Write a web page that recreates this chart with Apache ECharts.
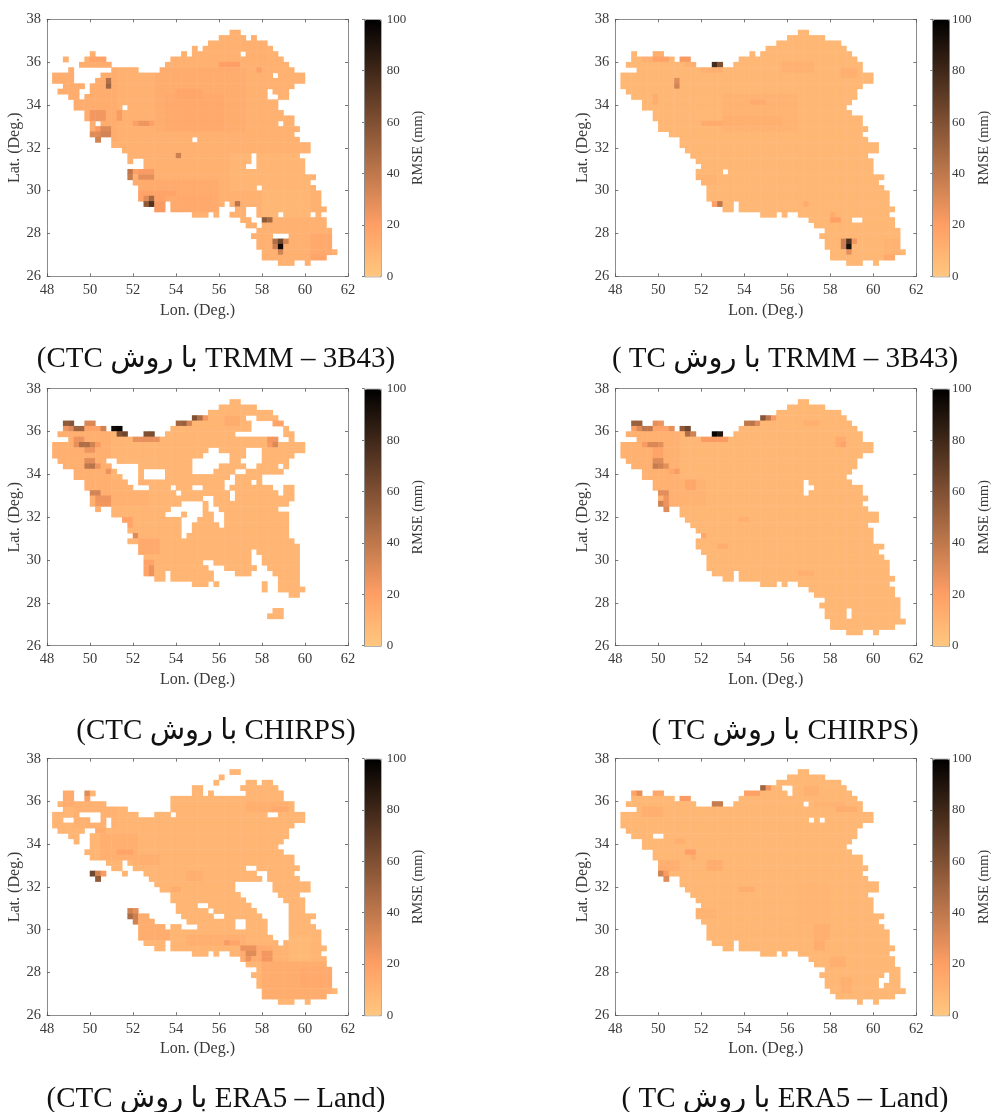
<!DOCTYPE html>
<html><head><meta charset="utf-8">
<style>html,body{margin:0;padding:0;background:#fff}#c{width:992px;height:1112px;filter:blur(0.45px)}</style>
<script src="https://cdn.jsdelivr.net/npm/echarts@6/dist/echarts.min.js"></script>
</head><body><div id="c"></div>
<script>
// Grid: 0.25 degree cells. row 0 = top (lat 38), col 0 = left (lon 48)
const rowCount = 48, colCount = 56;
const lonRange = [48, 62], latRange = [26, 38], rmseRange = [0, 100];
const tickStepDeg = 2, tickStepRmse = 20;

// land cells: [row, firstCol, lastCol]
const iranRuns = [[2,34,35],[3,32,38],[4,30,41],[5,27,42],[6,3,4],[6,7,8],[6,24,43],[7,3,10],[7,12,13],[7,23,44],[8,2,14],[8,18,19],[8,22,45],[9,4,45],[10,1,47],[11,1,47],[12,1,45],[13,2,44],[14,3,44],[15,5,43],[16,5,42],[17,7,43],[18,7,45],[19,8,45],[20,8,46],[21,8,45],[22,9,9],[22,12,46],[23,12,48],[24,13,48],[25,14,46],[26,15,47],[27,16,47],[28,15,47],[29,15,49],[30,16,48],[31,17,49],[32,17,50],[33,17,50],[34,18,21],[34,23,50],[35,20,21],[35,23,51],[36,27,29],[36,31,31],[36,34,50],[37,36,51],[38,37,51],[39,39,52],[40,38,52],[41,39,52],[42,39,52],[43,40,53],[44,40,51],[45,43,45],[45,48,48]];
const era5CtcRuns = [[2,34,35],[3,32,32],[4,31,31],[4,37,38],[4,40,41],[5,27,28],[5,36,42],[6,3,4],[6,7,8],[6,27,28],[6,30,30],[6,37,43],[7,3,4],[7,7,7],[7,23,43],[8,2,10],[8,23,45],[9,3,14],[9,23,45],[10,1,5],[10,10,16],[10,20,22],[10,24,40],[10,43,47],[11,1,2],[11,5,7],[11,10,10],[11,12,47],[12,1,10],[12,12,45],[13,2,6],[13,9,44],[14,4,5],[14,8,44],[15,5,5],[15,8,43],[16,8,42],[17,7,43],[18,8,45],[19,11,13],[19,15,45],[20,12,13],[20,16,36],[20,39,46],[21,8,10],[21,14,14],[21,18,38],[21,41,45],[22,9,9],[22,19,39],[22,41,46],[23,20,34],[23,42,48],[24,21,34],[24,42,48],[25,23,35],[25,43,46],[26,23,36],[26,44,47],[27,24,27],[27,30,37],[27,45,47],[28,15,16],[28,24,29],[28,31,38],[28,45,47],[29,15,18],[29,25,30],[29,33,39],[29,45,49],[30,16,19],[30,26,34],[30,37,40],[30,45,48],[31,17,21],[31,23,24],[31,28,34],[31,37,40],[31,45,49],[32,17,40],[32,45,50],[33,17,41],[33,45,50],[34,18,21],[34,23,42],[34,44,50],[35,20,21],[35,23,51],[36,27,29],[36,31,31],[36,34,50],[37,36,51],[38,37,51],[39,39,52],[40,38,52],[41,39,52],[42,39,52],[43,40,53],[44,40,51],[45,43,45],[45,48,48]];

// missing cells: [rowFrom, rowTo, colFrom, colTo]
const trmmCtcGaps = [[3,3,37,37],[4,4,41,41],[5,5,28,28],[5,5,42,42],[6,6,3,7],[6,6,24,24],[6,6,26,26],[6,6,36,36],[6,6,43,43],[7,7,4,6],[7,7,12,13],[7,7,44,44],[8,8,2,5],[8,8,12,19],[8,8,45,45],[9,9,5,11],[9,9,17,20],[10,10,5,9],[10,10,42,42],[11,11,5,8],[12,12,1,2],[12,12,7,7],[13,13,6,7],[13,13,41,41],[14,14,3,3],[14,14,6,6],[14,14,41,42],[15,15,43,43],[16,16,14,14],[19,19,9,9],[19,19,43,43],[22,22,27,27],[24,24,13,13],[25,25,14,14],[25,26,38,38],[26,26,16,17],[27,27,15,17],[27,27,37,38],[31,31,39,39],[34,34,33,33],[35,35,32,34],[35,35,37,38],[36,36,37,38],[36,36,43,43],[36,36,49,49],[37,37,38,39],[38,38,39,39],[40,40,42,44]];
const trmmTcGaps = [[5,5,27,27],[6,6,4,4],[6,6,24,24],[6,6,26,26],[21,21,8,9],[22,22,9,9],[28,28,20,20],[37,37,44,45]];
const chirpsCtcGaps = [[5,5,37,38],[6,6,38,41],[7,7,38,43],[8,8,35,43],[9,9,43,44],[11,11,30,31],[11,11,37,39],[12,12,29,33],[12,12,37,39],[13,13,11,12],[13,13,27,33],[13,13,36,39],[14,14,12,16],[14,14,27,31],[14,14,37,38],[14,14,43,43],[15,15,13,16],[15,15,18,21],[15,15,27,30],[15,15,35,36],[16,16,14,16],[16,16,18,21],[16,16,34,34],[16,16,40,42],[17,17,15,16],[17,17,33,34],[17,17,38,38],[17,17,40,43],[18,18,16,18],[18,18,23,23],[18,18,27,28],[18,18,33,33],[18,18,42,43],[19,19,24,24],[19,19,34,34],[19,19,43,43],[20,20,29,30],[20,20,34,34],[20,20,46,46],[21,21,25,28],[21,21,30,30],[21,21,45,45],[22,22,23,28],[22,22,30,31],[22,22,43,46],[23,23,22,24],[23,23,26,28],[23,23,31,32],[23,23,45,48],[24,24,13,13],[24,24,25,27],[24,24,31,32],[24,24,45,48],[25,25,14,14],[25,25,25,26],[25,25,32,32],[25,25,45,46],[26,26,25,26],[26,26,45,47],[27,27,25,25],[27,27,45,47],[28,28,46,47],[29,29,15,16],[29,29,47,49],[30,30,16,16],[30,30,38,38],[30,30,47,48],[31,31,17,17],[31,31,38,39],[31,31,47,49],[32,32,17,17],[32,32,29,30],[32,32,38,39],[32,32,47,50],[33,33,17,17],[33,33,30,32],[33,33,39,40],[33,33,47,50],[34,34,31,34],[34,34,38,41],[34,34,47,50],[35,35,31,42],[35,35,47,51],[36,36,34,39],[36,36,41,42],[36,36,47,50],[37,37,36,39],[37,37,41,42],[37,37,48,51],[38,38,37,44],[38,38,47,51],[39,40,0,55],[41,41,39,41],[41,41,44,52],[42,42,39,40],[42,42,44,52],[43,45,0,55]];
const chirpsTcGaps = [[17,19,35,35],[18,18,36,36],[41,42,43,43]];
const era5CtcGaps = [];
const era5TcGaps = [[5,5,31,32],[6,6,32,32],[8,8,35,35],[11,11,36,36],[11,11,38,38],[14,14,7,8],[44,44,40,40],[45,45,43,44],[40,41,50,50],[41,42,49,49]];

// RMSE (mm) typical level per panel
const trmmCtcBase = 11, trmmTcBase = 8, chirpsCtcBase = 9, chirpsTcBase = 8, era5CtcBase = 9, era5TcBase = 8;

// RMSE (mm): [rowFrom, rowTo, colFrom, colTo, value]
const trmmCtcLevels = [[8,22,0,12,13],[9,20,20,36,13],[14,20,22,32,15],[13,14,24,28,16],[19,19,16,19,20],[8,8,32,35,20],[9,9,28,35,14],[9,9,39,39,20],[3,7,36,40,12],[7,7,8,10,18],[17,18,8,10,24],[20,20,9,9,22],[20,20,10,11,31],[21,21,8,9,30],[21,21,10,11,34],[22,22,9,9,35],[17,18,13,13,22],[11,11,11,11,44],[12,12,11,11,50],[19,19,17,18,25],[25,25,24,24,36],[28,28,15,15,40],[29,29,15,15,38],[28,30,17,19,22],[29,29,17,19,28],[28,28,16,16,20],[30,35,16,31,14],[32,33,17,23,18],[33,35,22,30,15],[33,33,18,19,30],[33,33,19,19,48],[34,34,18,18,55],[34,34,19,19,75],[34,35,20,21,22],[34,34,35,35,42],[29,29,36,36,45],[36,36,40,40,45],[37,37,40,40,55],[37,37,41,41,48],[41,41,42,42,45],[41,41,43,43,65],[41,41,44,44,33],[42,42,42,42,36],[42,42,43,43,95],[43,43,43,43,35],[40,44,49,52,15],[44,44,49,51,17],[32,36,40,48,8],[25,31,34,48,9]];
const trmmTcLevels = [[6,7,5,9,12],[7,7,7,9,18],[7,7,12,13,22],[8,8,13,14,12],[8,8,18,18,78],[8,8,19,19,60],[9,9,16,19,12],[11,11,11,11,30],[12,12,11,11,34],[14,15,7,7,13],[14,20,20,33,10],[18,19,20,30,12],[15,15,25,27,14],[19,19,16,19,14],[8,9,31,36,11],[9,10,42,44,12],[34,34,18,18,20],[34,34,19,19,40],[34,34,35,35,15],[36,36,40,40,14],[37,37,40,41,20],[41,41,42,42,36],[41,41,43,43,75],[41,41,44,44,24],[42,42,42,42,36],[42,42,43,43,92],[43,43,43,43,28],[41,43,50,52,10],[44,44,50,51,15],[29,30,14,18,10]];
const chirpsCtcLevels = [[8,22,0,11,12],[17,21,12,18,11],[5,5,27,27,60],[5,5,28,28,45],[5,5,29,29,24],[6,6,24,24,50],[6,6,25,25,52],[6,6,26,26,34],[6,6,3,3,55],[6,6,4,4,58],[6,6,7,8,32],[7,7,3,3,24],[7,7,4,4,30],[7,7,5,6,50],[7,7,7,9,18],[7,7,10,10,35],[7,7,12,12,95],[7,7,13,13,98],[8,8,13,13,60],[8,8,14,14,65],[8,8,18,18,60],[8,8,19,19,62],[9,9,16,20,27],[9,9,5,6,26],[10,10,5,5,28],[10,10,6,7,45],[10,10,8,8,35],[10,10,9,9,22],[11,11,7,8,25],[13,13,7,8,29],[14,14,7,7,40],[14,14,8,8,42],[14,14,9,9,25],[15,15,11,11,26],[9,9,41,42,24],[10,10,41,41,22],[10,10,42,42,32],[6,7,42,43,18],[5,6,33,35,13],[19,19,8,9,34],[20,20,9,11,25],[21,21,9,11,24],[27,27,16,16,30],[24,25,14,15,18],[28,30,17,20,15],[32,34,18,19,18],[33,34,19,19,26]];
const chirpsTcLevels = [[8,22,0,11,11],[17,21,12,16,10],[5,5,27,27,58],[5,5,28,28,40],[5,5,29,29,22],[6,6,24,24,40],[6,6,25,25,42],[6,6,26,26,30],[6,6,3,4,52],[6,6,7,7,28],[6,6,8,8,25],[7,7,3,3,20],[7,7,4,4,30],[7,7,5,6,40],[7,7,7,9,18],[7,7,10,10,28],[7,7,12,12,55],[7,7,13,13,65],[8,8,13,13,45],[8,8,14,14,35],[8,8,18,18,98],[8,8,19,19,90],[9,9,16,20,22],[10,10,5,5,22],[10,10,6,7,32],[10,10,8,8,28],[11,12,7,8,18],[13,13,7,8,30],[14,14,7,7,38],[14,14,8,8,35],[14,14,9,9,28],[15,15,10,10,16],[15,15,11,11,22],[17,18,13,14,16],[19,19,8,9,29],[20,20,9,9,25],[21,21,8,8,35],[21,21,9,9,26],[22,22,9,9,30],[9,10,41,42,14],[10,10,42,42,18],[24,24,23,24,12],[27,27,16,16,16],[29,29,19,20,13],[34,34,34,36,12],[6,6,35,37,12]];
const era5CtcLevels = [[6,8,3,4,14],[6,6,7,7,30],[7,7,7,7,20],[8,12,5,12,11],[8,9,37,44,12],[9,9,42,44,15],[13,13,9,10,14],[14,18,10,16,12],[17,17,13,15,18],[18,19,16,20,12],[21,22,26,28,12],[21,21,8,8,65],[21,21,9,9,35],[21,21,10,10,22],[22,22,9,9,55],[24,24,23,24,13],[28,28,15,15,35],[28,28,16,16,28],[29,29,15,15,46],[29,29,16,16,36],[30,30,16,16,35],[30,30,17,17,20],[29,33,17,22,13],[33,34,26,36,12],[34,34,33,33,22],[34,34,34,35,17],[35,37,36,41,14],[35,35,36,38,26],[36,36,37,38,30],[37,37,37,37,26],[36,37,40,41,24],[38,44,40,52,13],[39,42,47,52,15],[33,37,44,48,7],[34,37,42,44,10]];
const era5TcLevels = [[5,5,27,27,50],[5,5,28,28,25],[5,6,35,37,11],[6,6,24,26,19],[6,6,3,3,18],[6,6,4,4,28],[6,6,7,8,16],[7,7,12,13,22],[8,8,18,19,38],[9,10,5,8,12],[9,9,41,44,13],[8,8,37,42,10],[15,15,11,12,12],[17,17,13,14,20],[18,18,14,14,13],[19,20,8,11,12],[19,20,17,19,13],[20,20,8,10,13],[21,21,8,8,35],[21,21,9,9,22],[22,22,9,9,30],[24,24,23,25,13],[31,33,37,39,12],[34,35,37,38,13],[37,38,40,42,12],[41,43,42,43,12],[28,29,15,18,10],[23,30,34,39,9]];

const panelTitles = ['(CTC با روش TRMM – 3B43)','( TC با روش TRMM – 3B43)','(CTC با روش CHIRPS)','( TC با روش CHIRPS)','(CTC با روش ERA5 – Land)','( TC با روش ERA5 – Land)'];
const panelRuns = [iranRuns, iranRuns, iranRuns, iranRuns, era5CtcRuns, iranRuns];
const panelGaps = [trmmCtcGaps, trmmTcGaps, chirpsCtcGaps, chirpsTcGaps, era5CtcGaps, era5TcGaps];
const panelBases = [trmmCtcBase, trmmTcBase, chirpsCtcBase, chirpsTcBase, era5CtcBase, era5TcBase];
const panelLevels = [trmmCtcLevels, trmmTcLevels, chirpsCtcLevels, chirpsTcLevels, era5CtcLevels, era5TcLevels];

// layout
const lefts = [47, 615.3], tops = [19.3, 388.7, 758.7], heights = [257, 257, 256.5], plotW = 301;
const barOffset = 317, barW = 16.7, titleX = [216, 785], titleY = [345, 717, 1085];
const serif = "'Liberation Serif','Times New Roman',serif";
const inkAxis = '#8c8c8c', inkText = '#3a3a3a';
const lonCats = Array.from({length: colCount}, (_, i) => String(48 + i * 0.25));
const latCats = Array.from({length: rowCount}, (_, i) => String(38 - (i + 1) * 0.25));

function cellsOf(p) {
  const m = new Map();
  panelRuns[p].forEach(([r, a, b]) => { for (let c = a; c <= b; c++) m.set(r * 100 + c, panelBases[p]); });
  panelLevels[p].forEach(([r1, r2, a, b, v]) => { for (let r = r1; r <= r2; r++) for (let c = a; c <= b; c++) if (m.has(r * 100 + c)) m.set(r * 100 + c, v); });
  panelGaps[p].forEach(([r1, r2, a, b]) => { for (let r = r1; r <= r2; r++) for (let c = a; c <= b; c++) m.delete(r * 100 + c); });
  return [...m].map(([k, v]) => [k % 100, rowCount - 1 - Math.floor(k / 100), v]);
}

const opt = {animation: false, backgroundColor: '#fff', grid: [], xAxis: [], yAxis: [], series: [], visualMap: [], title: []};
const axisLine = {show: true, lineStyle: {color: inkAxis, width: 1}};
const tick = {show: true, inside: true, length: 3, lineStyle: {color: '#555', width: 0.8}};
const labelStyle = {color: inkText, fontFamily: serif, fontSize: 14.5};
const nameStyle = {color: inkText, fontFamily: serif, fontSize: 16};

for (let p = 0; p < 6; p++) {
  const col = p % 2, row = Math.floor(p / 2);
  const L = lefts[col], T = tops[row], H = heights[row];
  const g = opt.grid.length;
  opt.grid.push({left: L, top: T, width: plotW, height: H});
  opt.grid.push({left: L + barOffset, top: T, width: barW, height: H});
  const xBase = opt.xAxis.length, yBase = opt.yAxis.length;
  const valX = {type: 'value', min: lonRange[0], max: lonRange[1], interval: tickStepDeg, gridIndex: g, splitLine: {show: false}, axisLine, axisTick: tick, z: 5};
  const valY = {type: 'value', min: latRange[0], max: latRange[1], interval: tickStepDeg, gridIndex: g, splitLine: {show: false}, axisLine, axisTick: tick, z: 5};
  opt.xAxis.push({type: 'category', data: lonCats, gridIndex: g, show: false});
  opt.xAxis.push({...valX, position: 'bottom', axisLabel: {...labelStyle, margin: 6, showMinLabel: true, showMaxLabel: true}, name: 'Lon. (Deg.)', nameLocation: 'middle', nameGap: 26, nameTextStyle: nameStyle});
  opt.xAxis.push({...valX, position: 'top', axisLabel: {show: false}});
  opt.xAxis.push({type: 'value', min: 0, max: 1, gridIndex: g + 1, show: false});
  opt.yAxis.push({type: 'category', data: latCats, gridIndex: g, show: false});
  opt.yAxis.push({...valY, position: 'left', axisLabel: {...labelStyle, margin: 6, showMinLabel: true, showMaxLabel: true}, name: 'Lat. (Deg.)', nameLocation: 'middle', nameGap: 23, nameRotate: 90, nameTextStyle: nameStyle});
  opt.yAxis.push({...valY, position: 'right', axisLabel: {show: false}});
  opt.yAxis.push({type: 'value', min: rmseRange[0], max: rmseRange[1], interval: tickStepRmse, gridIndex: g + 1, position: 'right', z: 5,
    splitLine: {show: false}, axisLine, axisTick: {...tick, length: 2},
    axisLabel: {...labelStyle, fontSize: 13, margin: 6, showMinLabel: true, showMaxLabel: true},
    name: 'RMSE (mm)', nameLocation: 'middle', nameGap: 31, nameRotate: 90, nameTextStyle: {...nameStyle, fontSize: 14.3}});
  const sIndex = opt.series.length;
  opt.series.push({type: 'heatmap', xAxisIndex: xBase, yAxisIndex: yBase, data: cellsOf(p), itemStyle: {borderWidth: 0}, emphasis: {disabled: true}, progressive: 0});
  opt.visualMap.push({type: 'continuous', seriesIndex: sIndex, min: rmseRange[0], max: rmseRange[1], calculable: false, show: true, hoverLink: false, realtime: false,
    left: L + barOffset, top: T, itemWidth: barW, itemHeight: H, padding: 0, borderColor: inkAxis, borderWidth: 1, text: null, textStyle: {fontSize: 0}, showLabel: false,
    inRange: {color: ['#ffc77f', '#ff9f65', '#bf784c', '#805033', '#402819', '#000000']}});
  opt.title.push({text: panelTitles[p], left: titleX[col], top: titleY[row], textAlign: 'center', padding: 0,
    textStyle: {fontFamily: "'Liberation Serif','DejaVu Sans',serif", fontSize: 29, fontWeight: 'normal', color: '#111'}});
}
const chart = echarts.init(document.getElementById('c'), null, {renderer: 'canvas'});
chart.setOption(opt);
</script></body></html>
